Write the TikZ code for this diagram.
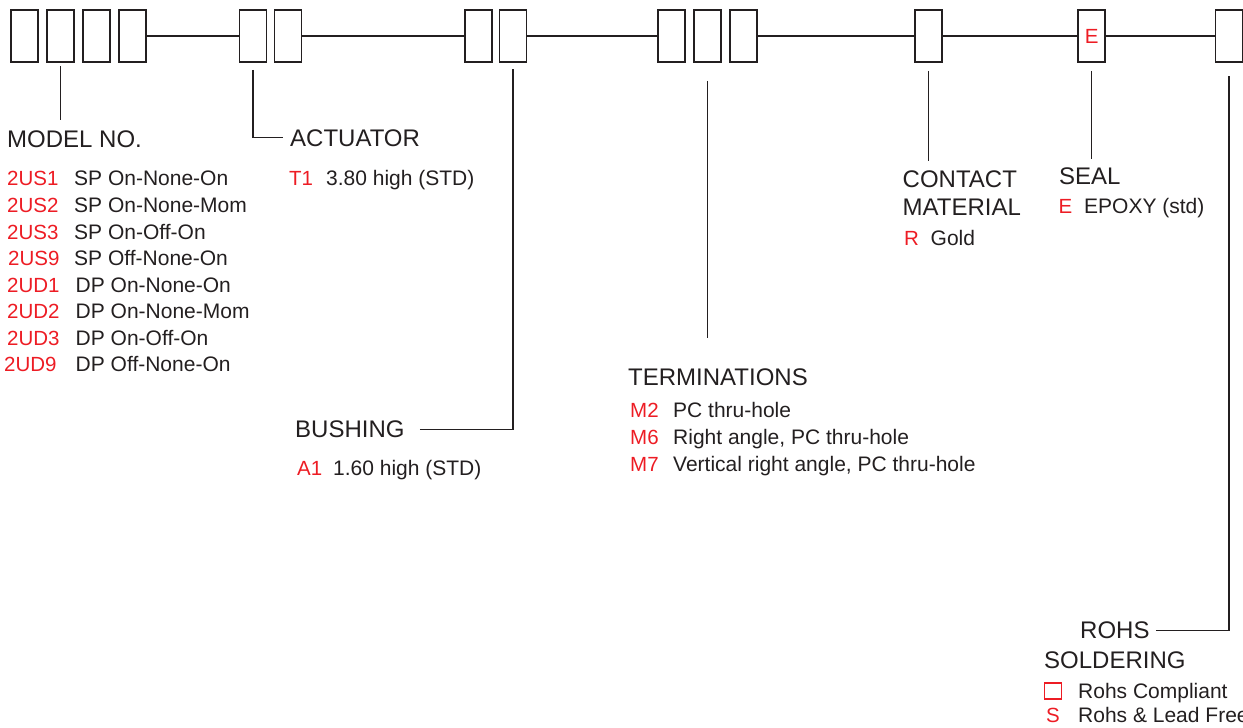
\documentclass[tikz,border=0pt]{standalone}
\usepackage{fontspec}
\setmainfont{Liberation Sans}
\definecolor{ink}{HTML}{231F20}
\definecolor{codered}{HTML}{ED1C24}
\begin{document}
\begin{tikzpicture}[x=1pt,y=-1pt,
  slot/.style={draw=ink,line width=1.9pt,minimum width=27pt,minimum height=52pt,inner sep=0pt},
  wire/.style={draw=ink,line width=1.4pt},
  head/.style={anchor=base west,inner sep=0pt,text=ink,font=\fontsize{24}{28}\selectfont},
  code/.style={anchor=base west,inner sep=0pt,text=codered,font=\fontsize{20.5}{24}\selectfont},
  desc/.style={anchor=base west,inner sep=0pt,text=ink,font=\fontsize{21}{25}\selectfont}]
\useasboundingbox (0,0) rectangle (1243,728);
\clip (0,0) rectangle (1243,728);
% boxes
\node[slot] (b1) at (24.5,36) {};
\node[slot] (b2) at (60.3,36) {};
\node[slot] (b3) at (96.3,36) {};
\node[slot] (b4) at (132.5,36) {};
\node[slot] (b5) at (253,36) {};
\node[slot] (b6) at (288,36) {};
\node[slot] (b7) at (478.3,36) {};
\node[slot] (b8) at (513,36) {};
\node[slot] (b9) at (671.8,36) {};
\node[slot] (b10) at (707.5,36) {};
\node[slot] (b11) at (743.3,36) {};
\node[slot] (b12) at (928.3,36) {};
\node[slot,text=codered,font=\fontsize{20.5}{24}\selectfont] (b13) at (1091.7,36) {E};
\node[slot] (b14) at (1229,36) {};
% main line
\draw[wire] (b4.east) -- (b5.west);
\draw[wire] (b6.east) -- (b7.west);
\draw[wire] (b8.east) -- (b9.west);
\draw[wire] (b11.east) -- (b12.west);
\draw[wire] (b12.east) -- (b13.west);
\draw[wire] (b13.east) -- (b14.west);
% MODEL NO.
\node[head] (model) at (7,147) {MODEL NO.};
\coordinate (modelend) at (60.3,120);
\draw[wire] ([yshift=-3pt]b2.south) -- (modelend);
\node[code] (c1) at (7,185) {2US1};   \node[desc] (d1) at (74,185) {SP On-None-On};
\node[code] (c2) at (7,212) {2US2};   \node[desc] (d2) at (74,212) {SP On-None-Mom};
\node[code] (c3) at (7,239) {2US3};   \node[desc] (d3) at (74,239) {SP On-Off-On};
\node[code] (c4) at (8,265.5) {2US9}; \node[desc] (d4) at (74,265.5) {SP Off-None-On};
\node[code] (c5) at (7,292) {2UD1};   \node[desc] (d5) at (75.5,292) {DP On-None-On};
\node[code] (c6) at (7,318.5) {2UD2}; \node[desc] (d6) at (75.5,318.5) {DP On-None-Mom};
\node[code] (c7) at (7,345) {2UD3};   \node[desc] (d7) at (75.5,345) {DP On-Off-On};
\node[code] (c8) at (4,371.5) {2UD9}; \node[desc] (d8) at (75.5,371.5) {DP Off-None-On};
% ACTUATOR
\node[head] (act) at (290,146) {ACTUATOR};
\draw[wire] ([yshift=-7pt]b5.south) |- ([xshift=-7pt]act.west);
\node[code] (t1) at (289,185) {T1};
\node[desc] (t1d) at (326,185) {3.80 high (STD)};
% BUSHING
\node[head] (bush) at (295,437.5) {BUSHING};
\draw[wire] ([xshift=15pt]bush.east) -| ([yshift=-6pt]b8.south);
\node[code] (a1) at (297,475) {A1};
\node[desc] (a1d) at (333,475) {1.60 high (STD)};
% TERMINATIONS
\node[head] (term) at (628,385) {TERMINATIONS};
\coordinate (termend) at (707.5,338);
\draw[wire] ([yshift=-18pt]b10.south) -- (termend);
\node[code] (m2) at (630,417) {M2}; \node[desc] (m2d) at (673,417) {PC thru-hole};
\node[code] (m6) at (630,444.5) {M6}; \node[desc] (m6d) at (673,444.5) {Right angle, PC thru-hole};
\node[code] (m7) at (630,471) {M7}; \node[desc] (m7d) at (673,471) {Vertical right angle, PC thru-hole};
% CONTACT MATERIAL
\node[head] (cm1) at (902.5,187.5) {CONTACT};
\node[head] (cm2) at (902.5,215.5) {MATERIAL};
\coordinate (cmend) at (928.3,161);
\draw[wire] ([yshift=-8pt]b12.south) -- (cmend);
\node[code] (r) at (904,245) {R};
\node[desc] (rd) at (930.5,245) {Gold};
% SEAL
\node[head] (seal) at (1059,184) {SEAL};
\coordinate (sealend) at (1091.7,159);
\draw[wire] ([yshift=-8pt]b13.south) -- (sealend);
\node[code] (e) at (1058.5,213.5) {E};
\node[desc] (ed) at (1084,213.5) {EPOXY (std)};
% ROHS SOLDERING
\node[head] (rohs) at (1080,638.5) {ROHS};
\node[head] (sold) at (1044,668) {SOLDERING};
\draw[wire] ([xshift=6pt]rohs.east) -| ([yshift=-13pt]b14.south);
\node[draw=codered,line width=1.5pt,minimum width=17pt,minimum height=16pt,inner sep=0pt] (sq) at (1053,691) {};
\node[desc] (sqd) at (1078,698) {Rohs Compliant};
\node[code] (s) at (1046,722) {S};
\node[desc] (sd) at (1078,722) {Rohs \& Lead Free};
\end{tikzpicture}
\end{document}
